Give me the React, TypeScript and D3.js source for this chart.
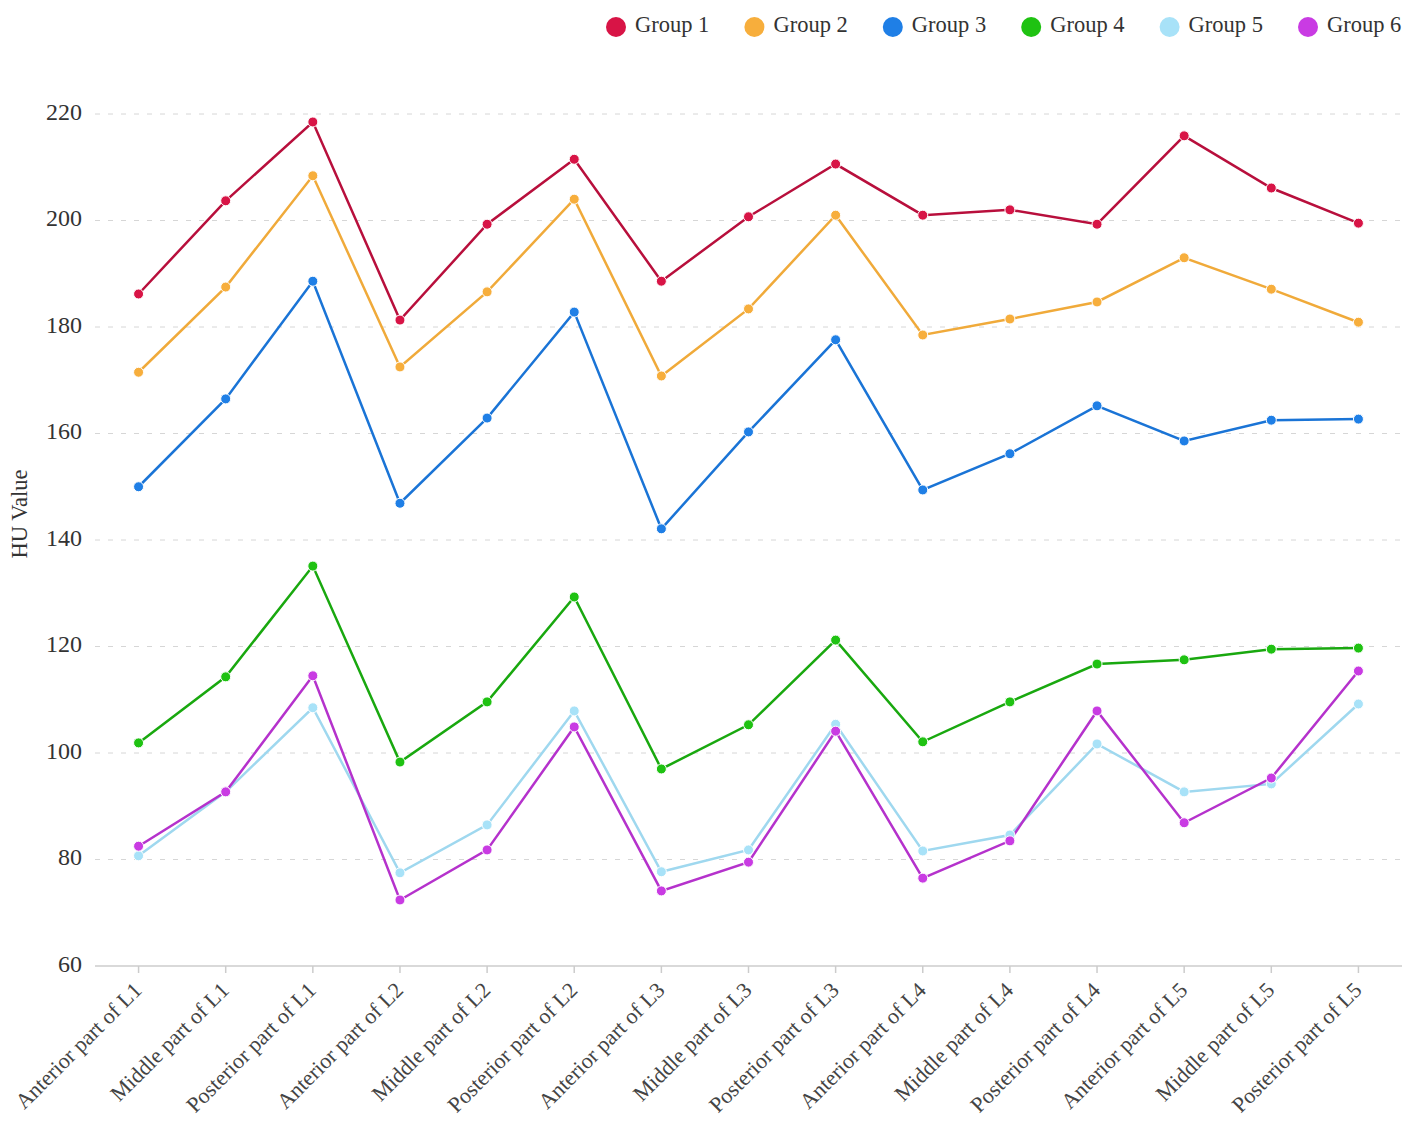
import React, { useEffect, useRef } from 'react';
import * as d3 from 'd3';

const categories = [
  'Anterior part of L1', 'Middle part of L1', 'Posterior part of L1',
  'Anterior part of L2', 'Middle part of L2', 'Posterior part of L2',
  'Anterior part of L3', 'Middle part of L3', 'Posterior part of L3',
  'Anterior part of L4', 'Middle part of L4', 'Posterior part of L4',
  'Anterior part of L5', 'Middle part of L5', 'Posterior part of L5',
];

const groupNames = ['Group 1', 'Group 2', 'Group 3', 'Group 4', 'Group 5', 'Group 6'];

const group1 = [186.2, 203.7, 218.5, 181.3, 199.3, 211.5, 188.6, 200.7, 210.6, 201.0, 202.0, 199.3, 215.9, 206.1, 199.5];
const group2 = [171.5, 187.5, 208.4, 172.5, 186.6, 204.0, 170.8, 183.4, 201.0, 178.5, 181.5, 184.7, 193.0, 187.1, 180.9];
const group3 = [150.0, 166.5, 188.6, 146.9, 162.9, 182.8, 142.1, 160.3, 177.6, 149.4, 156.2, 165.2, 158.6, 162.5, 162.7];
const group4 = [101.9, 114.3, 135.1, 98.3, 109.6, 129.3, 97.0, 105.3, 121.2, 102.1, 109.6, 116.7, 117.5, 119.5, 119.7];
const group5 = [80.7, 92.7, 108.5, 77.5, 86.5, 107.9, 77.7, 81.8, 105.4, 81.6, 84.6, 101.7, 92.7, 94.2, 109.2];
const group6 = [82.5, 92.7, 114.5, 72.4, 81.8, 104.9, 74.1, 79.5, 104.1, 76.5, 83.5, 107.9, 86.9, 95.3, 115.4];

const yTicks = [60, 80, 100, 120, 140, 160, 180, 200, 220];

const series = [group1, group2, group3, group4, group5, group6];
const colors = ['#d81446', '#f7ae3c', '#1f7fe6', '#1fc212', '#a8e2f8', '#c93be3'];
const lineColors = ['#b80f3c', '#f0aa3a', '#1a74d6', '#19a80f', '#9fd8ef', '#b532cc'];

const W = 1417;
const H = 1139;
const FONT = '"Liberation Serif", "DejaVu Serif", serif';

const App: React.FC = () => {
  const svgRef = useRef<SVGSVGElement>(null);

  useEffect(() => {
    document.body.style.margin = '0';
    if (!svgRef.current) return;
    const svg = d3.select(svgRef.current);
    svg.selectAll('*').remove();

    const left = 95;
    const right = 1402;
    const top = 114;
    const bottom = 966;

    const x = d3.scaleBand<string>().domain(categories).range([left, right]).padding(0);
    const cx = (c: string) => (x(c) as number) + x.bandwidth() / 2;
    const y = d3.scaleLinear().domain([60, 220]).range([bottom, top]);

    // Grid lines
    svg.append('g')
      .selectAll('line')
      .data(yTicks.filter(t => t !== 60))
      .join('line')
      .attr('x1', left)
      .attr('x2', right)
      .attr('y1', d => y(d))
      .attr('y2', d => y(d))
      .attr('stroke', '#d6d6d6')
      .attr('stroke-width', 1)
      .attr('stroke-dasharray', '5,8');

    // Y labels
    svg.append('g')
      .selectAll('text')
      .data(yTicks)
      .join('text')
      .attr('x', 82)
      .attr('y', d => y(d))
      .attr('text-anchor', 'end')
      .attr('dominant-baseline', 'middle')
      .attr('font-family', FONT)
      .attr('font-size', 24)
      .attr('fill', '#333')
      .text(d => d);

    // X axis line and ticks
    svg.append('line')
      .attr('x1', left)
      .attr('x2', right)
      .attr('y1', bottom)
      .attr('y2', bottom)
      .attr('stroke', '#cccccc')
      .attr('stroke-width', 1.5);

    const xt = svg.append('g');
    categories.forEach(c => {
      xt.append('line')
        .attr('x1', cx(c))
        .attr('x2', cx(c))
        .attr('y1', bottom)
        .attr('y2', bottom + 7)
        .attr('stroke', '#cccccc')
        .attr('stroke-width', 1.5);
      xt.append('text')
        .attr('transform', `translate(${cx(c) + 1},${bottom + 22}) rotate(-45)`)
        .attr('text-anchor', 'end')
        .attr('dominant-baseline', 'middle')
        .attr('font-family', FONT)
        .attr('font-size', 22)
        .attr('fill', '#444')
        .text(c);
    });

    // Y axis title
    svg.append('text')
      .attr('transform', `translate(22,${(top + bottom) / 2 - 26}) rotate(-90)`)
      .attr('text-anchor', 'middle')
      .attr('dominant-baseline', 'middle')
      .attr('font-family', FONT)
      .attr('font-size', 22.5)
      .attr('fill', '#333')
      .text('HU Value');

    // Lines & points
    const line = d3.line<number>()
      .x((_, i) => cx(categories[i]))
      .y(d => y(d));

    series.forEach((s, gi) => {
      svg.append('path')
        .datum(s)
        .attr('d', line)
        .attr('fill', 'none')
        .attr('stroke', lineColors[gi])
        .attr('stroke-width', 2.5);
    });
    series.forEach((s, gi) => {
      svg.append('g')
        .selectAll('circle')
        .data(s)
        .join('circle')
        .attr('cx', (_, i) => cx(categories[i]))
        .attr('cy', d => y(d))
        .attr('r', 5)
        .attr('fill', colors[gi])
        .attr('stroke', '#ffffff')
        .attr('stroke-width', 1);
    });

    // Legend
    const legend = svg.append('g');
    const legendX = d3.scalePoint<string>().domain(groupNames).range([616, 1308]);
    groupNames.forEach((g, i) => {
      const lx = legendX(g) as number;
      legend.append('circle')
        .attr('cx', lx)
        .attr('cy', 27)
        .attr('r', 10)
        .attr('fill', colors[i]);
      legend.append('text')
        .attr('x', lx + 19)
        .attr('y', 27)
        .attr('dominant-baseline', 'middle')
        .attr('font-family', FONT)
        .attr('font-size', 22.5)
        .attr('fill', '#333')
        .text(g);
    });
  }, []);

  return <svg ref={svgRef} width={W} height={H} style={{ display: 'block', background: '#fff' }} />;
};

export default App;
